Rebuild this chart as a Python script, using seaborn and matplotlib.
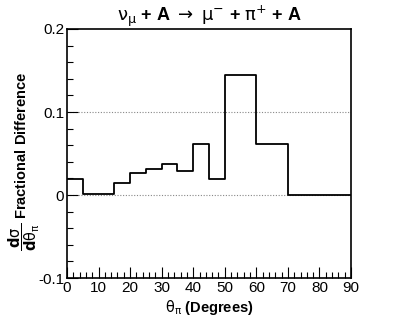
import matplotlib
matplotlib.use("Agg")
import matplotlib.pyplot as plt
from matplotlib.ticker import MultipleLocator
import seaborn as sns
import pandas as pd

# bin edges in degrees and fractional difference per bin
bin_edges = [0, 5, 15, 20, 25, 30, 35, 40, 45, 50, 60, 70, 90]
frac_diff = [0.019, 0.001, 0.015, 0.027, 0.031, 0.037, 0.029, 0.062, 0.019, 0.145, 0.061, 0.0]

sns.set_style("ticks")
plt.rcParams['font.family'] = ['Liberation Sans', 'DejaVu Sans']
plt.rcParams['mathtext.fontset'] = 'dejavusans'
plt.rcParams['text.color'] = 'black'
plt.rcParams['axes.labelcolor'] = 'black'
plt.rcParams['xtick.color'] = 'black'
plt.rcParams['ytick.color'] = 'black'

centers = [(lo + hi) / 2 for lo, hi in zip(bin_edges[:-1], bin_edges[1:])]
df = pd.DataFrame({'theta': centers, 'diff': frac_diff})

fig = plt.figure(figsize=(4.07, 3.28), dpi=100)
ax = fig.add_axes([0.1646, 0.1524, 0.8624 - 0.1646, 0.9116 - 0.1524])

sns.histplot(data=df, x='theta', weights='diff', bins=bin_edges,
             element='step', fill=False, color='black', linewidth=1.3, ax=ax)

for yv in [0.0, 0.1]:
    ax.axhline(yv, color='#888888', linestyle=(0, (1, 1.5)), linewidth=0.8, zorder=0)

ax.set_xlim(0, 90)
ax.set_ylim(-0.1, 0.2)
ax.xaxis.set_major_locator(MultipleLocator(10))
ax.xaxis.set_minor_locator(MultipleLocator(2))
ax.yaxis.set_minor_locator(MultipleLocator(0.02))
ax.set_yticks([-0.1, 0, 0.1, 0.2])
ax.set_yticklabels(['-0.1', '0', '0.1', '0.2'])
ax.tick_params(which='both', top=False, right=False)
ax.tick_params(which='major', direction='in', length=8, width=0.8, labelsize=11, pad=2)
ax.tick_params(which='minor', direction='in', length=4, width=0.8)
for s in ax.spines.values():
    s.set_linewidth(1.2)
    s.set_color('black')

ax.set_xlabel(r"$\mathrm{\theta_{\pi}}$ (Degrees)", fontsize=10.5, fontweight='bold', labelpad=2)
ax.set_ylabel(r"$\dfrac{\mathbf{d}\mathrm{\sigma}}{\mathbf{d}\mathrm{\theta_{\pi}}}$ Fractional Difference",
              fontsize=10.5, fontweight='bold')
ax.yaxis.set_label_coords(-0.088, 0.47)
ax.set_title(r"$\mathrm{\nu_{\mu}}$ + A $\rightarrow$ $\mathrm{\mu^{-}}$ + $\mathrm{\pi^{+}}$ + A",
             fontsize=13, fontweight='bold', pad=6)

fig.savefig("out.png", dpi=100)
